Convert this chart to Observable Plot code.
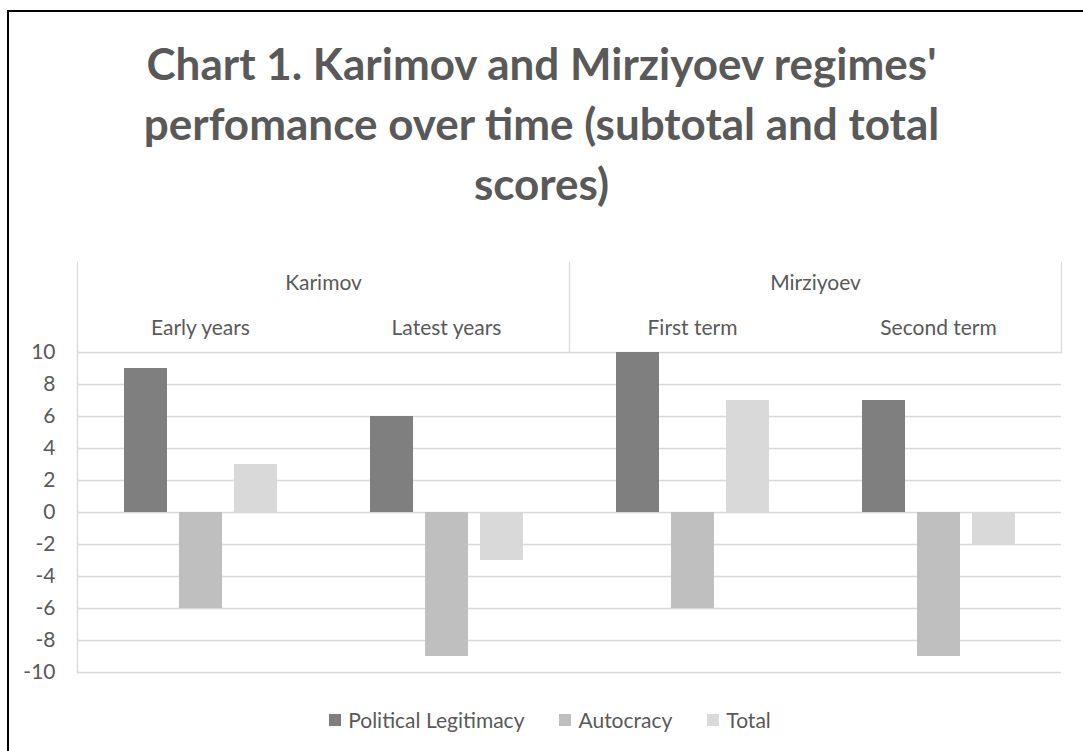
<!DOCTYPE html>
<html><head><meta charset="utf-8">
<script src="https://cdn.jsdelivr.net/npm/d3@7"></script>
<script src="https://cdn.jsdelivr.net/npm/@observablehq/plot@0.6"></script>
<style>
html,body{margin:0;padding:0;background:#fff;overflow:hidden;width:1083px;height:751px;}
#frame{position:absolute;left:7px;top:10px;width:1300px;height:900px;border:2px solid #000;box-sizing:border-box;}
#title{position:absolute;left:0;top:33px;width:1083px;text-align:center;font-family:Lato;font-weight:700;font-size:44px;line-height:60px;color:#595959;}
#chart{position:absolute;left:0;top:250px;}
#legend{position:absolute;left:0;top:706px;width:1100px;display:flex;justify-content:center;gap:35px;font-family:Lato;font-size:21px;color:#595959;line-height:28px;}
.item{display:flex;align-items:center;gap:7px}
.sw{width:12px;height:12px;display:inline-block}
</style></head><body>
<div id="frame"></div>
<div id="title">Chart 1. Karimov and Mirziyoev regimes'<br>perfomance over time (subtotal and total<br>scores)</div>
<div id="chart"></div>
<div id="legend"></div>
<script>
const regimes = ["Karimov", "Mirziyoev"];
const periods = ["Early years", "Latest years", "First term", "Second term"];
const periodRegime = ["Karimov", "Karimov", "Mirziyoev", "Mirziyoev"];
const series = ["Political Legitimacy", "Autocracy", "Total"];
const legitimacy = [9, 6, 10, 7];
const autocracy = [-6, -9, -6, -9];
const total = [3, -3, 7, -2];
const colors = ["#7f7f7f", "#bfbfbf", "#d9d9d9"];
const yTicks = [-10, -8, -6, -4, -2, 0, 2, 4, 6, 8, 10];

const values = [legitimacy, autocracy, total];
const table = periods.flatMap((p, i) => series.map((s, j) => ({period: p, series: s, value: values[j][i]})));
const regimeLabels = regimes.map(r => ({regime: r, period: periods[periodRegime.indexOf(r)]}));
const regimeEnds = regimes.map(r => periods[periodRegime.lastIndexOf(r)]);

const H = 440, MT = 102, MB = 18;
const plotH = H - MT - MB;
const headerH = 90;
const gridColor = "#d9d9d9";

const chart = Plot.plot({
  width: 1083, height: H,
  marginTop: MT, marginBottom: MB, marginLeft: 77, marginRight: 22,
  style: {fontFamily: "Lato", fontSize: "21px", color: "#595959", background: "transparent", overflow: "visible"},
  fx: {domain: periods, paddingInner: 0, paddingOuter: 0, axis: null},
  x: {domain: series, paddingInner: 12 / 55, paddingOuter: 0.845, axis: null},
  y: {domain: [-10, 10], axis: null},
  color: {domain: series, range: colors},
  marks: [
    Plot.gridY(yTicks, {stroke: gridColor, strokeOpacity: 1, strokeWidth: 1.3}),
    Plot.frame({anchor: "left", stroke: gridColor, strokeOpacity: 1, strokeWidth: 1.3, insetTop: -headerH, fx: () => periods[0]}),
    Plot.frame({anchor: "left", stroke: gridColor, strokeOpacity: 1, strokeWidth: 1.3, insetTop: -headerH, insetBottom: plotH, fx: () => regimeLabels[1].period}),
    Plot.frame({anchor: "right", stroke: gridColor, strokeOpacity: 1, strokeWidth: 1.3, insetTop: -headerH, insetBottom: plotH, fx: () => regimeEnds[1]}),
    Plot.barY(table, {fx: "period", x: "series", y: "value", fill: "series"}),
    Plot.axisY(yTicks, {label: null, tickSize: 0, tickPadding: 22, tickFormat: d => String(d), fontSize: 21, fill: "#595959"}),
    Plot.text(periods, {fx: d => d, text: d => d, frameAnchor: "top", dy: -24, lineAnchor: "middle", fill: "#595959", fontSize: 21}),
    Plot.text(regimeLabels, {fx: "period", text: "regime", frameAnchor: "top-right", textAnchor: "middle", dy: -69, lineAnchor: "middle", fill: "#595959", fontSize: 21})
  ]
});
document.getElementById("chart").appendChild(chart);

const legend = document.getElementById("legend");
series.forEach((s, i) => {
  const item = document.createElement("div");
  item.className = "item";
  const sw = document.createElement("span");
  sw.className = "sw";
  sw.style.background = colors[i];
  const t = document.createElement("span");
  t.textContent = s;
  item.appendChild(sw); item.appendChild(t);
  legend.appendChild(item);
});
</script>
</body></html>
